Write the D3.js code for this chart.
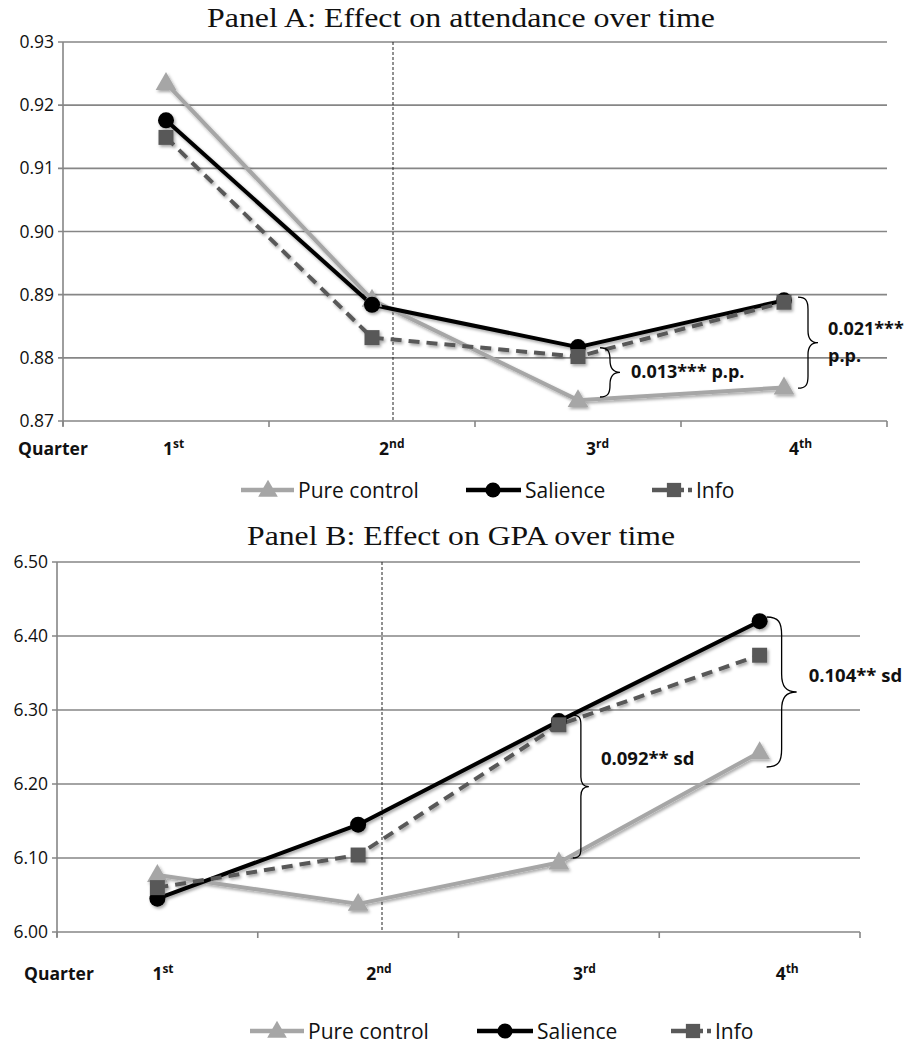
<!DOCTYPE html>
<html><head><meta charset="utf-8">
<script src="https://cdn.jsdelivr.net/npm/d3@7"></script>
<style>body{margin:0;background:#fff}svg{display:block}</style>
</head><body>
<svg id="c" width="912" height="1046"></svg>
<script>
// ---------- data ----------
const quarters = ["1st","2nd","3rd","4th"];
const quarterNums = ["1","2","3","4"];
const quarterSups = ["st","nd","rd","th"];
const seriesNames = ["Pure control","Salience","Info"];

const attendPure     = [0.9235, 0.8892, 0.8733, 0.8753];
const attendSalience = [0.9176, 0.8884, 0.8817, 0.8891];
const attendInfo     = [0.9149, 0.8832, 0.8802, 0.8888];
const attendTicks    = [0.87,0.88,0.89,0.90,0.91,0.92,0.93];

const gpaPure     = [6.077, 6.038, 6.094, 6.243];
const gpaSalience = [6.045, 6.145, 6.285, 6.420];
const gpaInfo     = [6.060, 6.104, 6.280, 6.374];
const gpaTicks    = [6.00,6.10,6.20,6.30,6.40,6.50];

// annotation braces: quarter, top value, bottom value, label lines
const attendBraces = [
  {q:"3rd", top:0.8816, bottom:0.8738, lines:["0.013*** p.p."]},
  {q:"4th", top:0.8896, bottom:0.8752, lines:["0.021***","p.p."]}
];
const gpaBraces = [
  {q:"3rd", top:6.293, bottom:6.100, lines:["0.092** sd"]},
  {q:"4th", top:6.4257, bottom:6.223, lines:["0.104** sd"]}
];

// ---------- styles ----------
const colors = {"Pure control":"#a6a6a6","Salience":"#000000","Info":"#595959"};
const dashes = {"Pure control":null,"Salience":null,"Info":"11,7"};
const FONT = "'Open Sans', 'DejaVu Sans', sans-serif";
const SERIF = "'Liberation Serif', 'DejaVu Serif', serif";

const svg = d3.select("#c");
const defs = svg.append("defs");
const f = defs.append("filter").attr("id","sh").attr("x","-50%").attr("y","-50%").attr("width","200%").attr("height","200%");
f.append("feDropShadow").attr("dx",1.5).attr("dy",2).attr("stdDeviation",1.6).attr("flood-color","#000").attr("flood-opacity",0.35);

function marker(g, name, x, y, s) {
  const c = colors[name];
  if (name === "Pure control") {
    g.append("path").attr("d", d3.symbol(d3.symbolTriangle, 185*s*s)()).attr("transform",`translate(${x},${y+1})`).attr("fill",c);
  } else if (name === "Salience") {
    g.append("circle").attr("cx",x).attr("cy",y).attr("r",8*s).attr("fill",c);
  } else {
    g.append("rect").attr("x",x-7.5*s).attr("y",y-7.5*s).attr("width",15*s).attr("height",15*s).attr("fill",c);
  }
}

function bracePath(x, y1, y2, w) {
  const ym = (y1+y2)/2, h = w*0.5, r = Math.min(w*0.6, (y2-y1)/4);
  return `M${x},${y1} C${x+h*0.8},${y1} ${x+h},${y1+r*0.3} ${x+h},${y1+r} L${x+h},${ym-r} C${x+h},${ym-r*0.3} ${x+h*1.3},${ym} ${x+w},${ym} C${x+h*1.3},${ym} ${x+h},${ym+r*0.3} ${x+h},${ym+r} L${x+h},${y2-r} C${x+h},${y2-r*0.3} ${x+h*0.8},${y2} ${x},${y2}`;
}

function panel(cfg) {
  const g = svg.append("g");
  const x = d3.scaleBand().domain(quarters).range([cfg.x0, cfg.x1]).padding(0);
  const y = d3.scaleLinear().domain(cfg.domain).range([cfg.yb, cfg.yt]);
  const cx = q => x(q) + x.bandwidth()/2;

  // title
  g.append("text").attr("x", cfg.titleX).attr("y", cfg.titleY).attr("text-anchor","middle")
    .attr("font-family", SERIF).attr("font-size", 27).attr("fill","#111")
    .attr("textLength", cfg.titleLen).attr("lengthAdjust","spacingAndGlyphs").text(cfg.title);

  // gridlines
  g.append("g").selectAll("line").data(cfg.ticks).join("line")
    .attr("x1", cfg.x0-5).attr("x2", cfg.x1).attr("y1", d=>y(d)).attr("y2", d=>y(d))
    .attr("stroke","#868686").attr("stroke-width",1.6);
  // left axis
  g.append("line").attr("x1",cfg.x0).attr("x2",cfg.x0).attr("y1",y(cfg.domain[1])).attr("y2",y(cfg.domain[0])+5)
    .attr("stroke","#868686").attr("stroke-width",1.6);
  // x ticks at band edges
  const edges = quarters.map(q=>x(q)).concat([cfg.x1]);
  g.append("g").selectAll("line").data(edges).join("line")
    .attr("x1",d=>d).attr("x2",d=>d).attr("y1",y(cfg.domain[0])).attr("y2",y(cfg.domain[0])+6)
    .attr("stroke","#868686").attr("stroke-width",1.6);
  // y labels
  g.append("g").selectAll("text").data(cfg.ticks).join("text")
    .attr("x", cfg.labelX).attr("y", d=>y(d)+6).attr("text-anchor","end")
    .attr("font-family",FONT).attr("font-size",17.5).attr("fill","#111").text(d=>d3.format(".2f")(d));

  // x labels
  g.append("text").attr("x", cfg.quarterX).attr("y", cfg.xLabY).attr("font-family",FONT).attr("font-weight","bold")
    .attr("font-size",17.5).attr("fill","#111").text("Quarter");
  quarters.forEach((q,i)=>{
    const t = g.append("text").attr("x", cx(q)+cfg.labOff[i]).attr("y", cfg.xLabY).attr("text-anchor","start")
      .attr("font-family",FONT).attr("font-weight","bold").attr("font-size",17.5).attr("fill","#111");
    t.append("tspan").text(quarterNums[i]);
    t.append("tspan").attr("font-size",12).attr("dy",-7).text(quarterSups[i]);
  });

  // vertical dotted separator
  g.append("line").attr("x1",cfg.sepX).attr("x2",cfg.sepX).attr("y1",y(cfg.domain[1])).attr("y2",y(cfg.domain[0]))
    .attr("stroke","#222").attr("stroke-width",1).attr("stroke-dasharray","3,2");

  // series
  const sg = g.append("g").attr("filter","url(#sh)");
  cfg.series.forEach((vals, si) => {
    const name = seriesNames[si];
    const line = d3.line().x((d,i)=>cx(quarters[i])).y(d=>y(d));
    sg.append("path").datum(vals).attr("d", line).attr("fill","none")
      .attr("stroke", colors[name]).attr("stroke-width", 4)
      .attr("stroke-dasharray", dashes[name]).attr("stroke-linejoin","round");
  });
  cfg.series.forEach((vals, si) => {
    const name = seriesNames[si];
    vals.forEach((v,i)=> marker(sg, name, cx(quarters[i]), y(v), 1));
  });

  // braces
  cfg.braces.forEach((b,k)=>{
    const bx = cx(b.q) + cfg.braceOff[k];
    g.append("path").attr("d", bracePath(bx, y(b.top), y(b.bottom), cfg.braceW[k]))
      .attr("fill","none").attr("stroke","#000").attr("stroke-width",1.3);
    const ym = (y(b.top)+y(b.bottom))/2;
    const n = b.lines.length;
    b.lines.forEach((ln,j)=>{
      g.append("text").attr("x", bx + cfg.braceW[k] + cfg.textGap[k])
        .attr("y", ym + 6 + (j - (n-1)/2)*27 + cfg.textDy[k])
        .attr("font-family",FONT).attr("font-weight","bold").attr("font-size",cfg.annSize).attr("fill","#111").text(ln);
    });
  });

  // legend
  const lg = g.append("g");
  cfg.legend.forEach((it,si)=>{
    const name = seriesNames[si];
    const ly = cfg.legY;
    lg.append("line").attr("x1",it[0]).attr("x2",it[1]).attr("y1",ly).attr("y2",ly)
      .attr("stroke",colors[name]).attr("stroke-width",4.5)
      .attr("stroke-dasharray", name==="Info" ? "15,12,5,4,4,100" : null);
    marker(lg, name, it[2], ly, 0.95);
    lg.append("text").attr("x", it[1]+4).attr("y", ly+7.5).attr("font-family",FONT)
      .attr("font-size",21).attr("fill","#111").text(name);
  });
}

panel({
  title:"Panel A: Effect on attendance over time", titleX:461, titleY:27, titleLen:508,
  x0:63, x1:887, yt:42, yb:421, domain:[0.87,0.93], ticks:attendTicks, labelX:54,
  quarterX:18, xLabY:455, sepX:393, labOff:[-3,7,8,5],
  series:[attendPure, attendSalience, attendInfo],
  braces:attendBraces, braceOff:[22,14], braceW:[20,20], textGap:[11,10], textDy:[0,0], annSize:18,
  legend:[[241,294,268],[466,521,493],[652,692,674]], legY:490
});

panel({
  title:"Panel B: Effect on GPA over time", titleX:461, titleY:545, titleLen:428,
  x0:57, x1:860, yt:562, yb:932, domain:[6.0,6.5], ticks:gpaTicks, labelX:48,
  quarterX:24, xLabY:980, sepX:382, labOff:[-5,8,14,16],
  series:[gpaPure, gpaSalience, gpaInfo],
  braces:gpaBraces, braceOff:[14,7], braceW:[16,30], textGap:[12,12], textDy:[-28,-16], annSize:18.5,
  legend:[[250,304,277],[477,533,505],[671,711,693]], legY:1031
});
</script>
</body></html>
